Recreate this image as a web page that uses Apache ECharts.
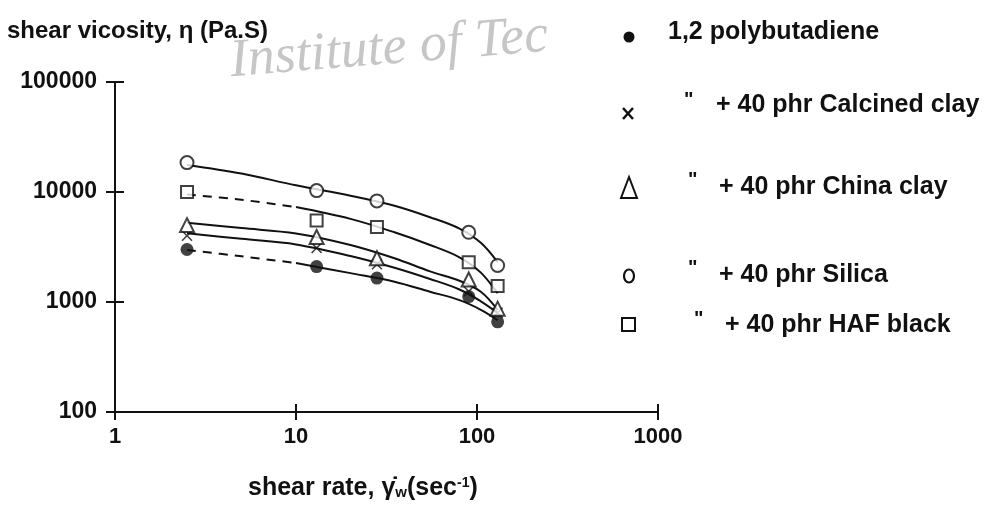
<!DOCTYPE html>
<html>
<head>
<meta charset="utf-8">
<script src="https://cdn.jsdelivr.net/npm/echarts@6/dist/echarts.min.js"></script>
<style>
  html, body { margin: 0; padding: 0; background: #fff; }
  #chart { width: 991px; height: 510px; }
</style>
</head>
<body>
<div id="chart"></div>
<script>
// Shear rate (1/s) at which each viscosity was measured
const shearRate = [2.5, 13, 28, 90, 130];

// Measured shear viscosity (Pa.s) for each compound
const polybutadiene = [3000, 2100, 1650, 1120, 660];
const calcinedClay = [4000, 3100, 2200, 1250, 800];
const chinaClay = [5000, 3900, 2500, 1600, 870];
const silica = [18500, 10300, 8300, 4300, 2150];
const hafBlack = [10000, 5500, 4800, 2300, 1400];

// Trend curves drawn through each data set (viscosity at these shear rates)
const curveRate = [2.5, 5, 10, 20, 35, 55, 80, 105, 130];
const polybutadieneCurve = [2970, 2600, 2260, 1830, 1530, 1240, 1040, 850, 685];
const calcinedClayCurve = [4220, 3750, 3340, 2620, 2050, 1620, 1300, 1015, 795];
const chinaClayCurve = [5250, 4700, 4200, 3300, 2500, 1900, 1560, 1240, 850];
const silicaCurve = [17600, 14700, 11500, 9250, 7500, 5900, 4650, 3450, 2300];
const hafBlackCurve = [9500, 8500, 7300, 5700, 4300, 3300, 2550, 1850, 1200];

// Axis ticks (log decades)
const xTicks = [1, 10, 100, 1000];
const yTicks = [100, 1000, 10000, 100000];

const FONT = '"Liberation Sans", Arial, sans-serif';
const INK = '#111';

const pairs = (xs, vals, from, to) =>
  vals.slice(from, to).map((v, i) => [xs[from + i], v]);

const crossPath = 'path://M0,1L1,0L5,4L9,0L10,1L6,5L10,9L9,10L5,6L1,10L0,9L4,5Z';

function markers(name, vals, symbol, size, fill) {
  return {
    name, type: 'scatter', data: pairs(shearRate, vals, 0, vals.length),
    symbol, symbolSize: size, z: 5,
    itemStyle: { color: fill, borderColor: INK, borderWidth: fill === INK ? 0 : 2 }
  };
}
function curve(vals, from, to, dashed) {
  return {
    type: 'line', data: pairs(curveRate, vals, from, to),
    smooth: 0.35,
    showSymbol: false, silent: true, z: 3,
    lineStyle: { color: INK, width: 2, type: dashed ? [9, 7] : 'solid' }
  };
}

const axisBase = {
  type: 'log', logBase: 10,
  axisLine: { show: true, onZero: false, lineStyle: { color: INK, width: 2 } },
  splitLine: { show: false },
  minorTick: { show: false }
};
const plain = v => String(Math.round(v));

function txt(x, y, text, size) {
  return { type: 'text', x, y, style: { text, font: 'bold ' + size + 'px ' + FONT, fill: INK, textVerticalAlign: 'middle' } };
}

const option = {
  animation: false,
  backgroundColor: '#fff',
  grid: { left: 115, right: 333, top: 82, bottom: 98 },
  xAxis: [
    Object.assign({}, axisBase, {
      min: xTicks[0], max: xTicks[xTicks.length - 1],
      axisTick: { show: true, length: 8, lineStyle: { color: INK, width: 2 } },
      axisLabel: { color: INK, fontFamily: FONT, fontWeight: 'bold', fontSize: 22, margin: 14, formatter: plain },
      position: 'bottom'
    }),
    Object.assign({}, axisBase, {
      min: xTicks[0], max: xTicks[xTicks.length - 1], position: 'bottom',
      axisLine: { show: false },
      axisTick: { show: true, inside: true, length: 8, lineStyle: { color: INK, width: 2 } },
      axisLabel: { show: false }
    })
  ],
  yAxis: [
    Object.assign({}, axisBase, {
      min: yTicks[0], max: yTicks[yTicks.length - 1],
      axisTick: { show: true, length: 9, lineStyle: { color: INK, width: 2 } },
      axisLabel: { color: INK, fontFamily: FONT, fontWeight: 'bold', fontSize: 23, margin: 18, formatter: plain,
                   padding: [8, 0, 0, 0] },
      position: 'left'
    }),
    Object.assign({}, axisBase, {
      min: yTicks[0], max: yTicks[yTicks.length - 1], position: 'left',
      axisLine: { show: false },
      axisTick: { show: true, inside: true, length: 9, lineStyle: { color: INK, width: 2 } },
      axisLabel: { show: false }
    })
  ],
  series: [
    curve(polybutadieneCurve, 0, 3, true),
    curve(polybutadieneCurve, 2, 9, false),
    curve(calcinedClayCurve, 0, 9, false),
    curve(chinaClayCurve, 0, 9, false),
    curve(silicaCurve, 0, 9, false),
    curve(hafBlackCurve, 0, 3, true),
    curve(hafBlackCurve, 2, 9, false),
    markers('1,2 polybutadiene', polybutadiene, 'circle', 13, INK),
    markers('Calcined clay', calcinedClay, crossPath, 11, INK),
    markers('China clay', chinaClay, 'triangle', 14, '#fff'),
    markers('Silica', silica, 'circle', 13, '#fff'),
    markers('HAF black', hafBlack, 'rect', 12, '#fff')
  ],
  graphic: [
    // Faint institutional stamp behind the heading
    { type: 'text', x: 230, y: 62, rotation: 0.08, z: -1, style: {
        text: 'Institute of Tec', font: 'italic 54px "Liberation Serif", "DejaVu Serif", serif',
        fill: '#c6c6c6', textVerticalAlign: 'middle' } },
    // Y-axis title
    txt(7, 31, 'shear vicosity, η (Pa.S)', 24),
    // X-axis title with subscript and superscript
    { type: 'text', x: 248, y: 488, style: {
        text: '{a|shear rate, γ̇}{s|w}{a|(sec}{p|-1}{a|)}',
        textVerticalAlign: 'middle',
        rich: {
          a: { font: 'bold 25px ' + FONT, fill: INK },
          s: { font: 'bold 15px ' + FONT, fill: INK, padding: [10, 0, 0, 0] },
          p: { font: 'bold 14px ' + FONT, fill: INK, padding: [0, 0, 10, 0] }
        } } },
    // Legend
    { type: 'circle', shape: { cx: 629, cy: 37, r: 5.5 }, style: { fill: INK } },
    txt(668, 32, '1,2 polybutadiene', 25),

    { type: 'line', shape: { x1: 623, y1: 108, x2: 633, y2: 119 }, style: { stroke: INK, lineWidth: 2.5 } },
    { type: 'line', shape: { x1: 633, y1: 108, x2: 623, y2: 119 }, style: { stroke: INK, lineWidth: 2.5 } },
    txt(684, 100, '"', 20),
    txt(716, 105, '+ 40 phr Calcined clay', 25),

    { type: 'polygon', shape: { points: [[629, 177], [621, 198], [637, 198]] }, style: { stroke: INK, lineWidth: 2, fill: '#fff' } },
    txt(688, 180, '"', 20),
    txt(719, 187, '+ 40 phr China clay', 25),

    { type: 'ellipse', shape: { cx: 629, cy: 276, rx: 5, ry: 6.5 }, style: { stroke: INK, lineWidth: 2.2, fill: '#fff' } },
    txt(688, 268, '"', 20),
    txt(719, 275, '+ 40 phr Silica', 25),

    { type: 'rect', shape: { x: 622, y: 318, width: 13, height: 13 }, style: { stroke: INK, lineWidth: 2, fill: '#fff' } },
    txt(694, 319, '"', 20),
    txt(725, 325, '+ 40 phr HAF black', 25)
  ]
};

echarts.init(document.getElementById('chart'), null, { renderer: 'canvas' }).setOption(option);
</script>
</body>
</html>
